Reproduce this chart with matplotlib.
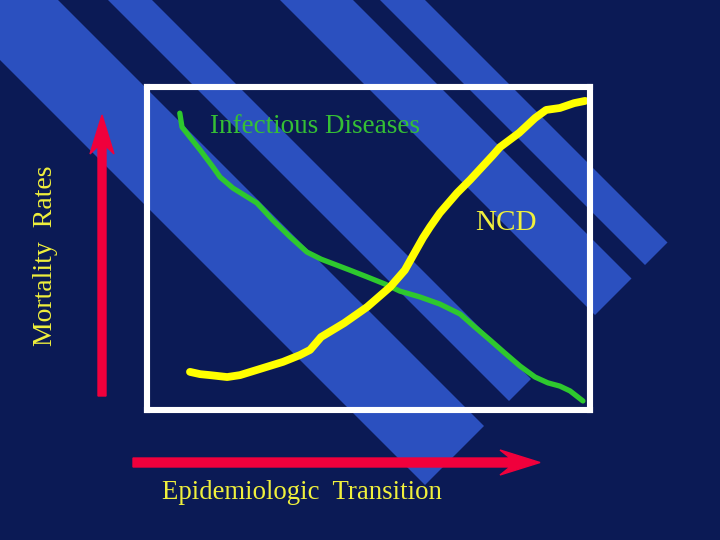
import matplotlib
matplotlib.use('Agg')
import matplotlib.pyplot as plt
from matplotlib.patches import Polygon, FancyArrow

# curves (x: stage of transition 0-100, y: mortality 0-100)
infect_x = [7.4, 7.9, 12.0, 14.9, 16.5, 19.4, 24.8, 28.4, 32.3, 36.1, 39.3, 45.8,
            49.7, 53.7, 57.1, 61.6, 66.1, 70.7, 74.0, 77.4, 80.8, 84.2, 87.6,
            90.5, 93.2, 95.5, 98.4]
infect_y = [91.9, 87.6, 80.5, 75.2, 72.1, 68.7, 64.1, 58.8, 53.6, 48.9, 46.7, 43.3,
            41.2, 39.0, 36.8, 35.0, 32.8, 29.7, 25.7, 21.7, 17.6, 13.6, 10.2,
            8.4, 7.4, 5.9, 2.8]

ncd_x = [9.7, 12.0, 14.2, 18.1, 21.0, 26.2, 30.7, 34.5, 36.8, 39.3, 44.5, 49.7,
         54.9, 58.2, 60.0, 62.3, 63.9, 66.1, 70.0, 72.9, 75.6, 78.1, 79.7, 84.0,
         87.6, 90.1, 93.2, 96.4, 98.9]
ncd_y = [11.8, 11.1, 10.8, 10.2, 10.8, 13.0, 14.9, 17.0, 18.6, 22.6, 26.9, 31.9,
         38.1, 43.3, 47.7, 53.3, 56.7, 61.0, 67.2, 71.2, 75.2, 78.9, 81.4, 85.8,
         90.4, 92.9, 93.5, 95.0, 95.7]

navy = '#0b1a55'
stripe_col = '#2b50bf'
yellow_txt = '#f0f03c'
red = '#f0003c'
serif = ['Liberation Serif', 'DejaVu Serif']

fig = plt.figure(figsize=(7.2, 5.4), dpi=100)
fig.patch.set_facecolor(navy)

# background layer in pixel units
bg = fig.add_axes([0, 0, 1, 1])
bg.set_xlim(0, 720)
bg.set_ylim(540, 0)
bg.axis('off')

# diagonal stripes: bands of (y - x), cut along x + y = 910
bands = [(-58, 60), (-152, -108), (-353, -280), (-425, -380)]
cut = 910
for c1, c2 in bands:
    pts = [(-50 - c1, -50), (-50 - c2, -50),
           ((cut - c2) / 2, (cut + c2) / 2), ((cut - c1) / 2, (cut + c1) / 2)]
    bg.add_patch(Polygon(pts, closed=True, facecolor=stripe_col, edgecolor='none'))

# red axis arrows
bg.add_patch(FancyArrow(102, 396, 0, -281, width=8, head_width=24, head_length=39,
                        overhang=0.2, length_includes_head=True, color=red))
bg.add_patch(FancyArrow(133, 462.5, 407, 0, width=9, head_width=25, head_length=40,
                        overhang=0.25, length_includes_head=True, color=red))

bg.text(46, 256, 'Mortality  Rates', rotation=90, ha='center', va='center',
        color=yellow_txt, fontsize=20, family=serif)
bg.text(162, 499, 'Epidemiologic  Transition', ha='left', va='baseline',
        color=yellow_txt, fontsize=19.3, family=serif)

# framed chart
ax = fig.add_axes([147 / 720, 1 - 410 / 540, 443 / 720, 323 / 540])
ax.set_facecolor('none')
ax.set_xlim(0, 100)
ax.set_ylim(0, 100)
ax.set_xticks([])
ax.set_yticks([])
for s in ax.spines.values():
    s.set_color('white')
    s.set_linewidth(4.4)

ax.plot(infect_x, infect_y, color='#2ec82e', lw=3.8, solid_capstyle='round',
        solid_joinstyle='round', clip_on=False)
ax.plot(ncd_x, ncd_y, color='#ffff00', lw=5.6, solid_capstyle='round',
        solid_joinstyle='round', clip_on=False)

ax.text(14.2, 85.8, 'Infectious Diseases', ha='left', va='baseline',
        color='#35c035', fontsize=19.5, family=serif)
ax.text(74.0, 55.7, 'NCD', ha='left', va='baseline',
        color=yellow_txt, fontsize=21, family=serif)

fig.savefig('out.png', dpi=100, facecolor=fig.get_facecolor())
